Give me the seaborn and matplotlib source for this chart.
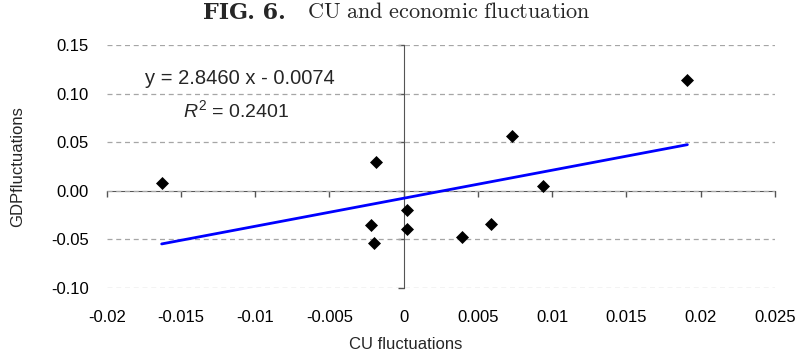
import matplotlib
matplotlib.use('Agg')
import matplotlib.pyplot as plt
import numpy as np
import pandas as pd
import seaborn as sns

# values
cu_fluct = [-0.0163, -0.0019, -0.0022, -0.0020, 0.0002, 0.0002, 0.0039, 0.0059, 0.0073, 0.0094, 0.0191]
gdp_fluct = [0.008, 0.030, -0.035, -0.054, -0.020, -0.040, -0.048, -0.034, 0.056, 0.005, 0.114]

x_ticks = [-0.02, -0.015, -0.01, -0.005, 0, 0.005, 0.01, 0.015, 0.02, 0.025]
x_labels = ['-0.02', '-0.015', '-0.01', '-0.005', '0', '0.005', '0.01', '0.015', '0.02', '0.025']
y_ticks = [-0.10, -0.05, 0.00, 0.05, 0.10, 0.15]
y_labels = ['-0.10', '-0.05', '0.00', '0.05', '0.10', '0.15']

eq_text = 'y = 2.8460 x - 0.0074'
r2_text = r'$R^2$ = 0.2401'

sns.set_style('white')
plt.rcParams['font.family'] = ['Liberation Sans', 'DejaVu Sans']
plt.rcParams['mathtext.fontset'] = 'custom'
plt.rcParams['mathtext.rm'] = 'Liberation Sans'
plt.rcParams['mathtext.it'] = 'Liberation Sans:italic'

df = pd.DataFrame({'CU': cu_fluct, 'GDP': gdp_fluct})

fig = plt.figure(figsize=(7.97, 3.58), dpi=100)
ax = fig.add_axes([0.1339, 0.1969, 0.8385, 0.6766])

sns.regplot(data=df, x='CU', y='GDP', ax=ax, ci=None, marker='D',
            scatter_kws=dict(color='black', s=44, linewidths=0, alpha=1, zorder=3),
            line_kws=dict(color='#0000ff', lw=2, zorder=2))

ax.set_xlim(-0.02, 0.025)
ax.set_ylim(-0.10, 0.15)
ax.set_xticks(x_ticks, x_labels)
ax.set_yticks(y_ticks, y_labels)
ax.tick_params(axis='both', length=0, labelsize=12, colors='black')
ax.tick_params(axis='x', pad=16)
ax.tick_params(axis='y', pad=13)
for s in ax.spines.values():
    s.set_visible(False)
ax.set_axisbelow(True)
ax.yaxis.grid(True, ls=(0, (4, 3)), color='#a6a6a6', lw=0.9)
ax.xaxis.grid(False)

# axes crossing at zero
sx = ax.secondary_xaxis(0, transform=ax.transData)
sx.set_xticks(x_ticks)
sx.tick_params(direction='out', length=4.3, width=1, color='#555555',
               labelbottom=False, labeltop=False)
for s in sx.spines.values():
    s.set_color('#555555')
sy = ax.secondary_yaxis(0, transform=ax.transData)
sy.set_yticks(y_ticks)
sy.tick_params(direction='out', length=4.3, width=1, color='#555555',
               labelleft=False, labelright=False)
for s in sy.spines.values():
    s.set_color('#555555')

ax.set_xlabel('CU fluctuations', fontsize=12)
ax.xaxis.set_label_coords(0.448, -0.205)
ax.set_ylabel('GDPfluctuations', fontsize=12)
ax.yaxis.set_label_coords(-0.122, 0.5)

ax.text(0.199, 0.861, eq_text, transform=ax.transAxes, ha='center', va='center', fontsize=14.5)
ax.text(0.194, 0.733, r2_text, transform=ax.transAxes, ha='center', va='center', fontsize=14)

# title: bold label part + regular caption
fig.text(0.2545, 0.965, 'FIG. 6.', ha='left', va='center', fontsize=16,
         family='DejaVu Serif', weight='bold')
fig.text(0.385, 0.965, r'$\mathrm{CU\ and\ economic\ fluctuation}$',
         ha='left', va='center', fontsize=16, math_fontfamily='cm')

plt.savefig('out.png', dpi=100)
